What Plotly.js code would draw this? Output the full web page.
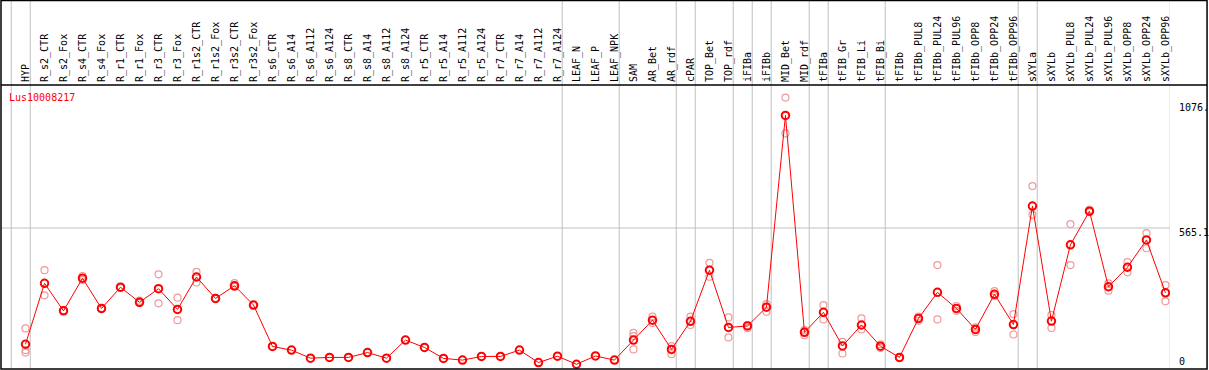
<!DOCTYPE html>
<html>
<head>
<meta charset="utf-8">
<script src="https://cdn.plot.ly/plotly-3.0.1.min.js"></script>
<style>html,body{margin:0;padding:0;background:#fff;}#chart{width:1209px;height:370px;}</style>
</head>
<body>
<div id="chart"></div>
<script>
const categories = ["HYP","R_s2_CTR","R_s2_Fox","R_s4_CTR","R_s4_Fox","R_r1_CTR","R_r1_Fox","R_r3_CTR","R_r3_Fox","R_r1s2_CTR","R_r1s2_Fox","R_r3s2_CTR","R_r3s2_Fox","R_s6_CTR","R_s6_A14","R_s6_A112","R_s6_A124","R_s8_CTR","R_s8_A14","R_s8_A112","R_s8_A124","R_r5_CTR","R_r5_A14","R_r5_A112","R_r5_A124","R_r7_CTR","R_r7_A14","R_r7_A112","R_r7_A124","LEAF_N","LEAF_P","LEAF_NPK","SAM","AR_Bet","AR_rdf","cPAR","TOP_Bet","TOP_rdf","iFIBa","iFIBb","MID_Bet","MID_rdf","tFIBa","tFIB_Gr","tFIB_Li","tFIB_Bi","tFIBb","tFIBb_PUL8","tFIBb_PUL24","tFIBb_PUL96","tFIBb_OPP8","tFIBb_OPP24","tFIBb_OPP96","sXYLa","sXYLb","sXYLb_PUL8","sXYLb_PUL24","sXYLb_PUL96","sXYLb_OPP8","sXYLb_OPP24","sXYLb_OPP96"];

const meanValues = [88,338,225,359,235,322,260,316,231,364,276,328,249,79,64,31,34,34,54,31,105,75,30,23,38,38,64,13,39,6,40,23,105,187,67,182,392,157,163,240,1027,137,219,81,167,80,34,194,301,235,149,293,169,655,183,496,634,324,404,516,299];

// replicate points: category index and value
const repIndex = [0,0,0, 1,1, 2,2, 3,3, 4,4, 5,5, 6,6, 7,7, 8,8, 9,9, 10,10, 11,11, 12,12, 32,32,32, 33,33, 34,34, 35,35, 36,36, 37,37, 38,38, 39,39, 40,40, 41,41, 42,42, 43,43, 44,44, 45,45, 46,46, 47,47, 48,48, 49,49, 50,50, 51,51, 52,52, 53,53, 54,54, 55,55, 56,56, 57,57, 58,58, 59,59, 60,60];
const repValues = [153,64,54, 392,289, 224,228, 368,352, 237,232, 323,319, 267,257, 375,256, 279,187, 385,341, 278,274, 339,323, 251,247, 135,121,67, 201,175, 80,47, 201,167, 422,365, 198,116, 167,154, 253,221, 1100,953, 146,125, 249,190, 98,50, 194,149, 88,73, 35,32, 201,184, 413,190, 245,225, 157,138, 306,286, 212,128, 737,619, 208,155, 581,413, 640,630, 338,308, 425,383, 544,482, 331,264];

// group separators (positions between categories, in category index units)
const separators = [-0.75,0.25,28.25,31.25,34.25,35.25,37.25,38.25,39.25,41.25,42.25,45.25,52.25,53.25,60.25];

const yTickVals = [0, 565.1, 1076];
const yTickText = ["0", "565.1", "1076."];
const geneName = "Lus10008217";

const mono = "DejaVu Sans Mono, monospace";

const traces = [
  {
    x: repIndex.map(i => categories[i]),
    y: repValues,
    type: "scatter", mode: "markers",
    marker: {symbol: "circle-open", size: 7, color: "#f09a9a", line: {width: 1.2, color: "#f09a9a"}},
    hoverinfo: "skip", showlegend: false
  },
  {
    x: categories,
    y: meanValues,
    type: "scatter", mode: "lines+markers",
    line: {color: "#ff0000", width: 1},
    marker: {symbol: "circle-open", size: 7.5, color: "#ff0000", line: {width: 2, color: "#ff0000"}},
    showlegend: false
  }
];

const shapes = [];
separators.forEach(s => {
  shapes.push({type: "line", xref: "x", yref: "paper", x0: s, x1: s, y0: 0, y1: 1.3, line: {color: "#c0c0c0", width: 1}, layer: "below"});
});
// gridline at middle tick
shapes.push({type: "line", xref: "paper", yref: "y", x0: 0, x1: 1, y0: yTickVals[1], y1: yTickVals[1], line: {color: "#c0c0c0", width: 1}, layer: "below"});
// frame
shapes.push({type: "line", xref: "paper", yref: "paper", x0: 0, x1: 1.0317, y0: 1, y1: 1, line: {color: "#000", width: 1.5}});
shapes.push({type: "rect", xref: "paper", yref: "paper", x0: 0, x1: 1.0317, y0: 0, y1: 1.2975, line: {color: "#000", width: 1.5}});

const annotations = [
  {xref: "paper", yref: "paper", x: 0.0051, y: 0.9577, xanchor: "left", yanchor: "middle", text: geneName, showarrow: false, font: {family: mono, size: 10, color: "#ff0000"}},
  {xref: "paper", yref: "y", x: 1.0058, y: yTickVals[0], xanchor: "left", yanchor: "bottom", yshift: -3, text: yTickText[0], showarrow: false, font: {family: mono, size: 10, color: "#000"}},
  {xref: "paper", yref: "y", x: 1.0058, y: yTickVals[1], xanchor: "left", yanchor: "top", yshift: 3, text: yTickText[1], showarrow: false, font: {family: mono, size: 10, color: "#000"}},
  {xref: "paper", yref: "y", x: 1.0058, y: yTickVals[2], xanchor: "left", yanchor: "top", yshift: 3, text: yTickText[2], showarrow: false, font: {family: mono, size: 10, color: "#000"}}
];

const layout = {
  width: 1209, height: 370,
  margin: {l: 1, r: 39, t: 85, b: 1, pad: 0},
  paper_bgcolor: "#fff", plot_bgcolor: "#fff",
  xaxis: {
    type: "category", categoryorder: "array", categoryarray: categories,
    range: [-1.29, 60.24], side: "top", tickangle: -90,
    showgrid: false, zeroline: false, showline: false, ticks: "",
    tickfont: {family: mono, size: 10, color: "#000"}, ticklabelstandoff: 2,
    fixedrange: true
  },
  yaxis: {
    range: [-13.5, 1151.8], visible: false, showgrid: false, zeroline: false, fixedrange: true
  },
  shapes: shapes,
  annotations: annotations,
  showlegend: false
};

Plotly.newPlot("chart", traces, layout, {displayModeBar: false, staticPlot: true});
</script>
</body>
</html>
